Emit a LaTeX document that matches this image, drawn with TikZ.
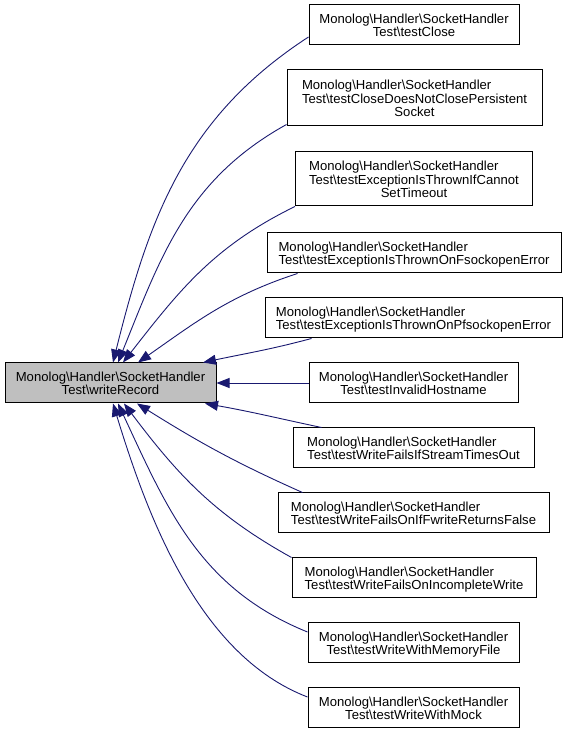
\documentclass[tikz,border=0pt]{standalone}
\usepackage{fontspec}
\setmainfont{Liberation Sans}
\usetikzlibrary{arrows.meta}
\definecolor{edgeblue}{HTML}{191970}
\definecolor{fillgray}{HTML}{BFBFBF}
\newcommand{\bsl}{\textbackslash}
\newcommand{\dlbl}[2]{\raisebox{-2.3pt}[\height][\depth]{\begin{tabular}{@{}l@{}}#1\\\multicolumn{1}{@{}c@{}}{#2}\end{tabular}}}

\begin{document}
\begin{tikzpicture}[x=1pt, y=1pt]
	\tikzset{nd/.style={rectangle, draw=black, line width=1pt, inner sep=0pt, minimum height=40pt, font=\fontsize{13.1}{13.4}\selectfont},
		cur/.style={nd, fill=fillgray},
		ln/.style={draw=edgeblue, line width=0.9pt, -{Triangle[length=13pt, width=10pt]}}};
	\useasboundingbox (0,0) rectangle (569,736);

	\node[cur, minimum width=211pt] (wr) at (110.5, 353) {\dlbl{Monolog\bsl Handler\bsl SocketHandler}{Test\bsl writeRecord}};

	\node[nd, minimum width=210pt] (n1) at (414, 711) {\dlbl{Monolog\bsl Handler\bsl SocketHandler}{Test\bsl testClose}};
	\node[nd, minimum width=255pt, minimum height=56pt] (n2) at (414.5, 638) {\dlbl{Monolog\bsl Handler\bsl SocketHandler\\Test\bsl testCloseDoesNotClosePersistent}{Socket}};
	\node[nd, minimum width=237pt, minimum height=54pt] (n3) at (414, 557) {\dlbl{Monolog\bsl Handler\bsl SocketHandler\\Test\bsl testExceptionIsThrownIfCannot}{SetTimeout}};
	\node[nd, minimum width=294pt] (n4) at (414, 483) {\dlbl{Monolog\bsl Handler\bsl SocketHandler}{Test\bsl testExceptionIsThrownOnFsockopenError}};
	\node[nd, minimum width=297pt] (n5) at (413.5, 418) {\dlbl{Monolog\bsl Handler\bsl SocketHandler}{Test\bsl testExceptionIsThrownOnPfsockopenError}};
	\node[nd, minimum width=209pt] (n6) at (413.5, 353) {\dlbl{Monolog\bsl Handler\bsl SocketHandler}{Test\bsl testInvalidHostname}};
	\node[nd, minimum width=241pt] (n7) at (413.5, 288) {\dlbl{Monolog\bsl Handler\bsl SocketHandler}{Test\bsl testWriteFailsIfStreamTimesOut}};
	\node[nd, minimum width=271pt] (n8) at (413.5, 223) {\dlbl{Monolog\bsl Handler\bsl SocketHandler}{Test\bsl testWriteFailsOnIfFwriteReturnsFalse}};
	\node[nd, minimum width=244pt] (n9) at (414, 158) {\dlbl{Monolog\bsl Handler\bsl SocketHandler}{Test\bsl testWriteFailsOnIncompleteWrite}};
	\node[nd, minimum width=211pt] (n10) at (413.5, 93) {\dlbl{Monolog\bsl Handler\bsl SocketHandler}{Test\bsl testWriteWithMemoryFile}};
	\node[nd, minimum width=211pt] (n11) at (413.5, 28) {\dlbl{Monolog\bsl Handler\bsl SocketHandler}{Test\bsl testWriteWithMock}};

	\draw[ln] ([yshift=-12pt]n1.west) to[out=213, in=76] ([xshift=2.5pt]wr.north);
	\draw[ln] ([yshift=2pt]n2.south west) to[out=209, in=68] ([xshift=7.5pt]wr.north);
	\draw[ln] (n3.south west) to[out=206, in=52] ([xshift=12.5pt]wr.north);
	\draw[ln] ([xshift=31pt]n4.south west) to[out=198, in=35] ([xshift=27.5pt]wr.north);
	\draw[ln] ([xshift=47pt]n5.south west) to[out=195, in=12] ([xshift=92.5pt]wr.north);
	\draw[ln] (n6) to (wr);
	\draw[ln] ([xshift=29pt]n7.north west) to[out=168, in=-10] ([xshift=94.5pt]wr.south);
	\draw[ln] ([xshift=25pt]n8.north west) to[out=156, in=-32] ([xshift=26.5pt]wr.south);
	\draw[ln] (n9.north west) to[out=151, in=-53] ([xshift=13.5pt]wr.south);
	\draw[ln] ([yshift=11pt]n10.west) to[out=158, in=-65] ([xshift=7.5pt]wr.south);
	\draw[ln] ([yshift=11pt]n11.west) to[out=159, in=-73, looseness=0.85] ([xshift=2.5pt]wr.south);
\end{tikzpicture}
\end{document}
